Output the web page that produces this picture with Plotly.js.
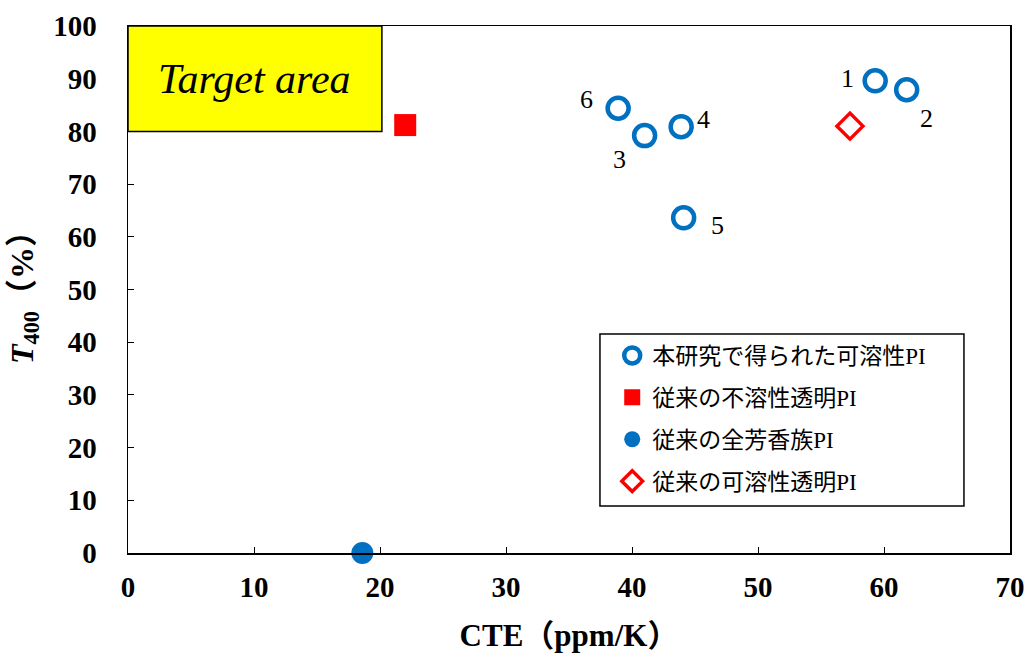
<!DOCTYPE html>
<html>
<head>
<meta charset="utf-8">
<script src="https://cdn.plot.ly/plotly-3.0.1.min.js"></script>
<style>html,body{margin:0;padding:0;background:#fff;}#chart{width:1027px;height:655px;}</style>
</head>
<body>
<div id="chart"></div>
<script>
// Data
const thisWorkCTE = [59.3, 61.8, 41.0, 43.9, 44.1, 38.9];
const thisWorkT400 = [89.6, 87.9, 79.2, 80.9, 63.6, 84.4];
const thisWorkIds = ["1", "2", "3", "4", "5", "6"];
const labelCTE = [57.1, 63.4, 39.0, 45.7, 46.8, 36.4];
const labelT400 = [90.1, 82.5, 74.6, 82.2, 62.2, 86.1];

const insolubleCTE = [22.0];
const insolubleT400 = [81.2];

const aromaticCTE = [18.6];
const aromaticT400 = [0];

const solubleCTE = [57.3];
const solubleT400 = [81.0];

const seriesNames = ["本研究で得られた可溶性PI", "従来の不溶性透明PI", "従来の全芳香族PI", "従来の可溶性透明PI"];

const targetCTE = [0, 20.15];
const targetT400 = [80, 100];

const xTicks = [0, 10, 20, 30, 40, 50, 60, 70];
const yTicks = [0, 10, 20, 30, 40, 50, 60, 70, 80, 90, 100];

const BLUE = "#0070C0";
const RED = "#FF0000";
const SERIF = "'Liberation Serif', 'Times New Roman', 'Noto Sans CJK JP', serif";

const traces = [
  {x: thisWorkCTE, y: thisWorkT400, name: seriesNames[0], type: "scatter", mode: "markers", legendgroup: "a",
   marker: {symbol: "circle-open", size: 21, color: BLUE, line: {color: BLUE, width: 4.5}}},
  {x: insolubleCTE, y: insolubleT400, name: seriesNames[1], type: "scatter", mode: "markers", legendgroup: "b",
   marker: {symbol: "square", size: 22, color: RED}},
  {x: aromaticCTE, y: aromaticT400, name: seriesNames[2], type: "scatter", mode: "markers", legendgroup: "c", cliponaxis: false,
   marker: {symbol: "circle", size: 22, color: BLUE}},
  {x: solubleCTE, y: solubleT400, name: seriesNames[3], type: "scatter", mode: "markers", legendgroup: "d",
   marker: {symbol: "diamond-open", size: 20, color: RED, line: {color: RED, width: 3.5}}}
];

const annotations = thisWorkIds.map((t, i) => ({
  x: labelCTE[i], y: labelT400[i], xref: "x", yref: "y", text: t, showarrow: false,
  font: {family: SERIF, size: 26, color: "#000"}
}));
annotations.push({
  x: (targetCTE[0] + targetCTE[1]) / 2, y: (targetT400[0] + targetT400[1]) / 2, xref: "x", yref: "y",
  text: "<i>Target area</i>", showarrow: false,
  font: {family: SERIF, size: 42, color: "#000"}
});

const layout = {
  width: 1027, height: 655,
  margin: {l: 128, r: 17, t: 26, b: 102},
  paper_bgcolor: "#fff", plot_bgcolor: "#fff",
  showlegend: true,
  legend: {
    x: 0.549, y: 0.4156, xanchor: "left", yanchor: "top",
    borderwidth: 0, bgcolor: "rgba(0,0,0,0)",
    font: {family: SERIF, size: 23, color: "#000"},
    tracegroupgap: 9, itemsizing: "trace", itemwidth: 30
  },
  xaxis: {
    range: [0, 70], tickvals: xTicks, ticktext: xTicks.map(String),
    showgrid: false, zeroline: false,
    showline: true, linecolor: "#000", linewidth: 1.5, mirror: true,
    ticks: "inside", ticklen: 6, tickcolor: "#000", tickwidth: 1,
    tickfont: {family: SERIF, size: 29, color: "#000", weight: "bold"},
    ticklabelstandoff: 8,
    title: {text: "<b>CTE（ppm/K）</b>", font: {family: SERIF, size: 31, color: "#000"}, standoff: 22}
  },
  yaxis: {
    range: [0, 100], tickvals: yTicks, ticktext: yTicks.map(String),
    showgrid: false, zeroline: false,
    showline: true, linecolor: "#000", linewidth: 1.5, mirror: true,
    ticks: "inside", ticklen: 6, tickcolor: "#000", tickwidth: 1,
    tickfont: {family: SERIF, size: 29, color: "#000", weight: "bold"},
    ticklabelstandoff: 24,
    title: {text: "<b><i>T</i><sub>400</sub>（%）</b>", font: {family: SERIF, size: 32, color: "#000"}, standoff: 10}
  },
  shapes: [
    {type: "rect", xref: "x", yref: "y",
     x0: targetCTE[0], x1: targetCTE[1], y0: targetT400[0], y1: targetT400[1],
     fillcolor: "#FFFF00", line: {color: "#000", width: 1.5}, layer: "above"},
    // legend frame
    {type: "rect", xref: "paper", yref: "paper", x0: 0.5351, x1: 0.9478, y0: 0.0892, y1: 0.4156,
     fillcolor: "#fff", line: {color: "#000", width: 1.5}, layer: "above"}
  ],
  annotations: annotations
};

Plotly.newPlot("chart", traces, layout, {displayModeBar: false, staticPlot: true});
</script>
</body>
</html>
